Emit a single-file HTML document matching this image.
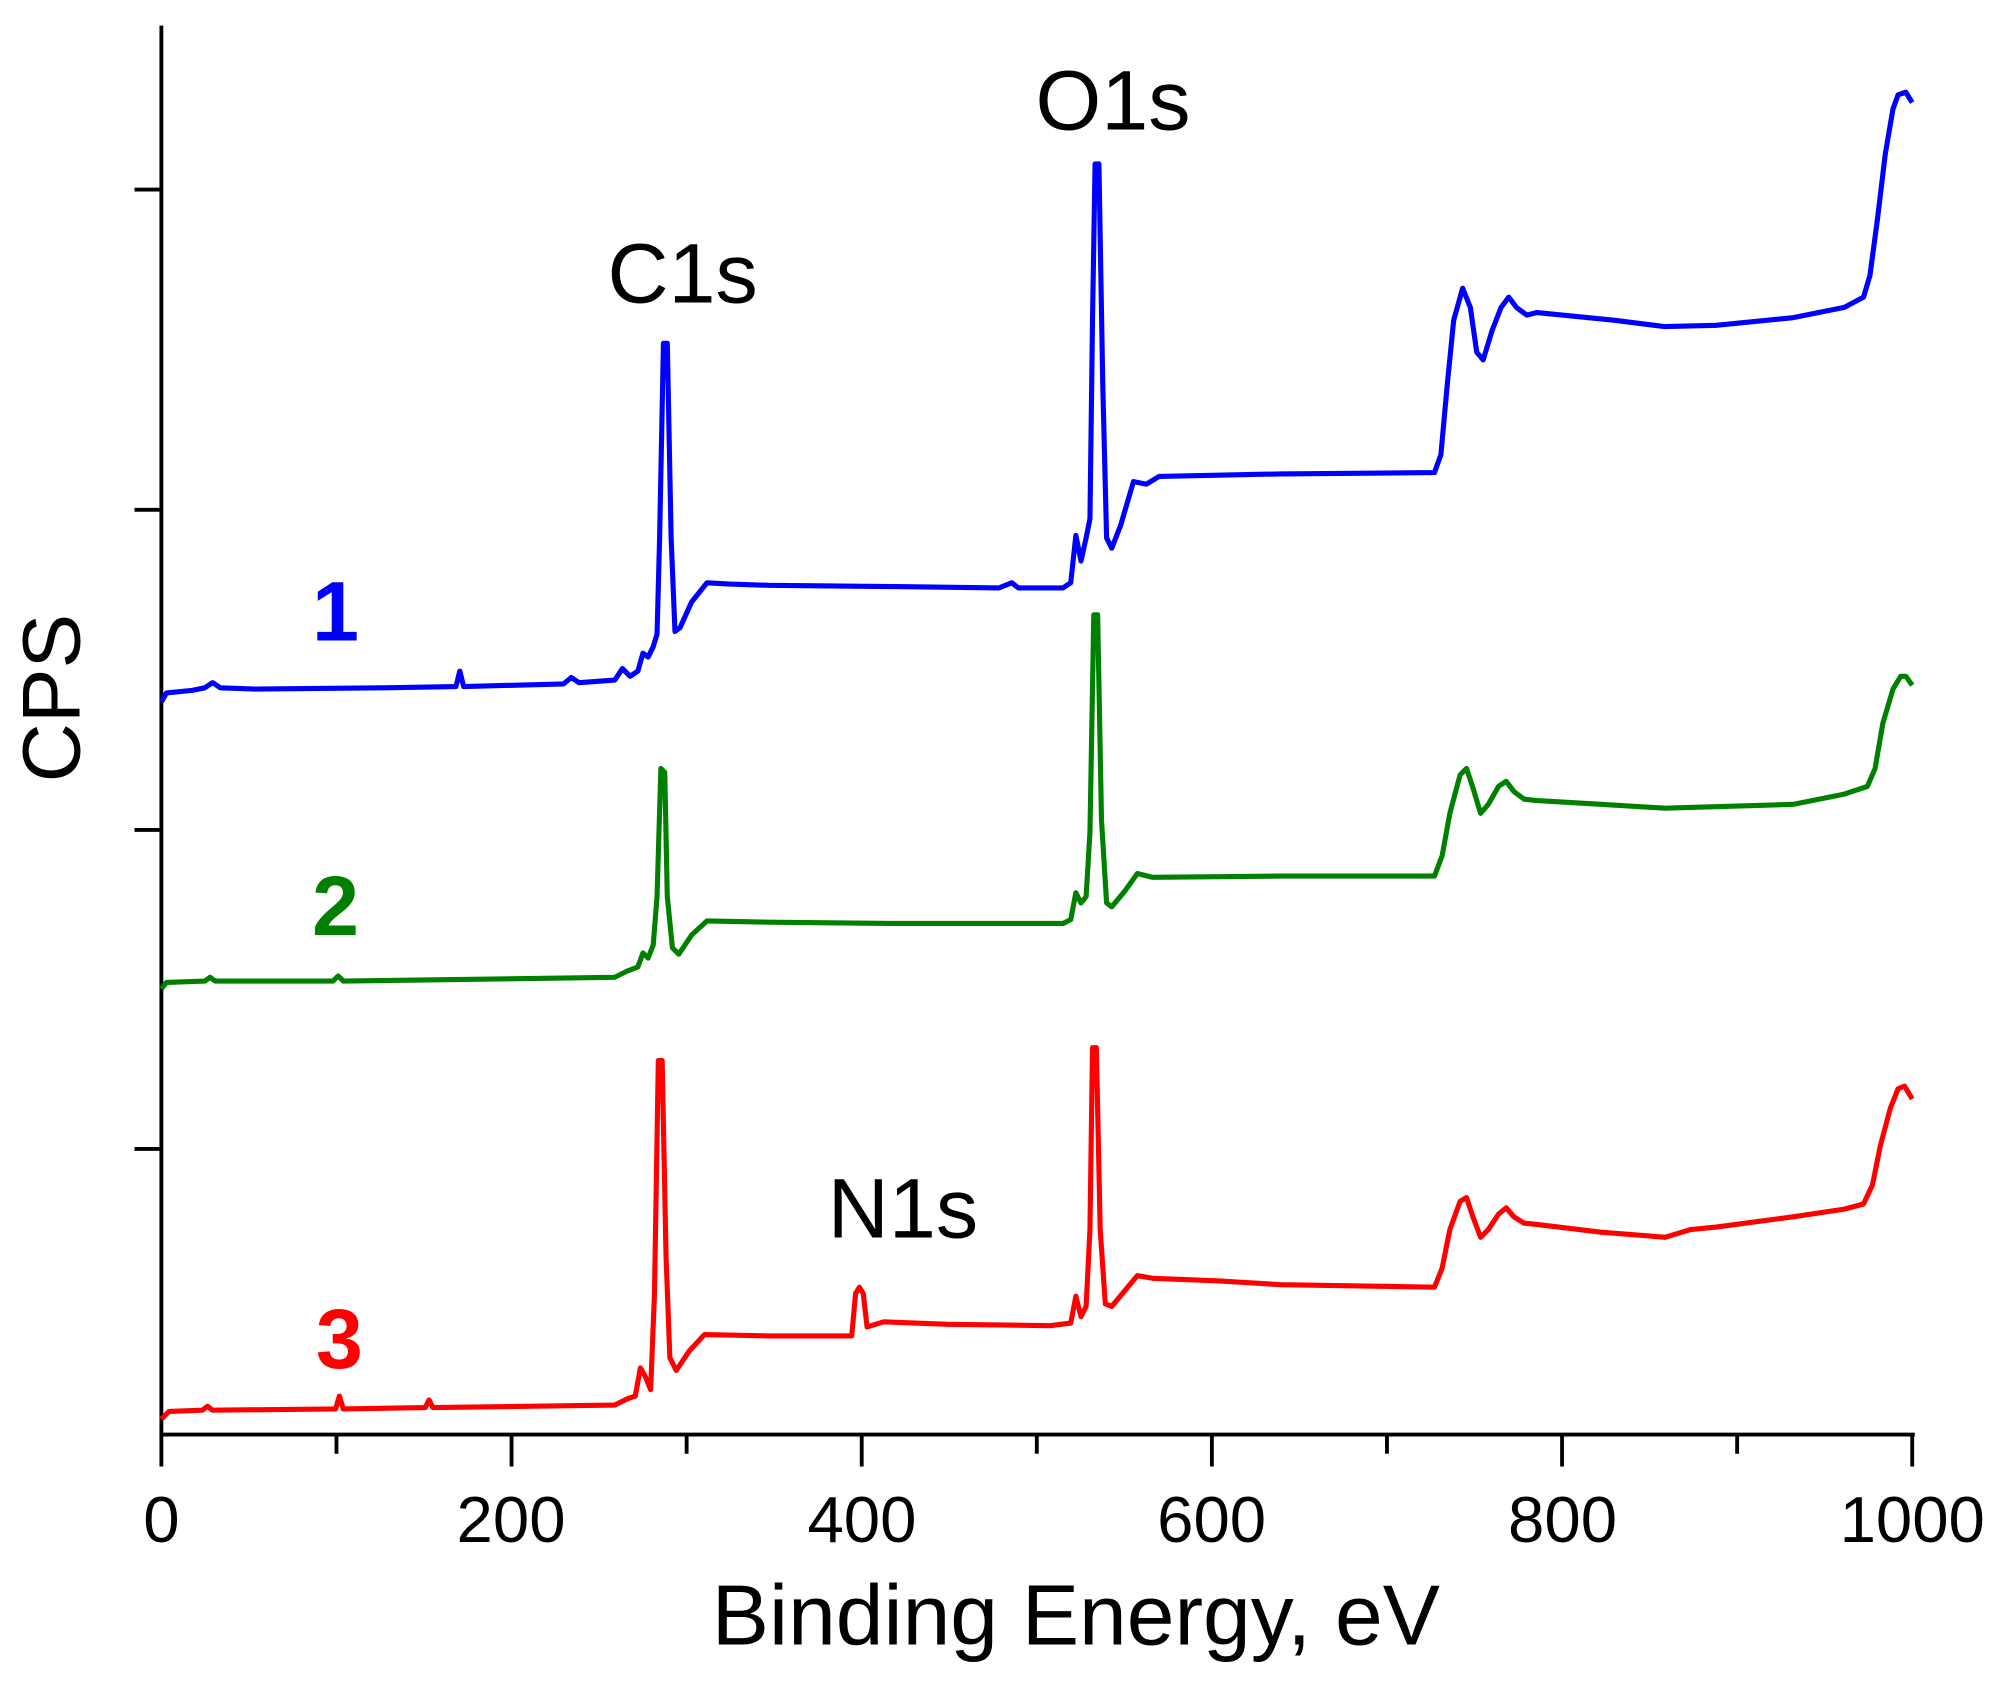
<!DOCTYPE html>
<html><head><style>html,body{margin:0;padding:0;background:#fff}svg{display:block}</style></head>
<body>
<svg width="2007" height="1683" viewBox="0 0 1567 1314" preserveAspectRatio="none" xmlns="http://www.w3.org/2000/svg" font-family="Liberation Sans, Arial, sans-serif">
<rect width="1567" height="1314" fill="#fff"/>
<g stroke="#000" stroke-width="3" fill="none">
<line x1="126" y1="20" x2="126" y2="1121"/>
<line x1="124.5" y1="1120" x2="1495" y2="1120"/>
<line x1="105" y1="148" x2="126" y2="148"/>
<line x1="105" y1="398" x2="126" y2="398"/>
<line x1="105" y1="648" x2="126" y2="648"/>
<line x1="105" y1="897" x2="126" y2="897"/>
<line x1="126" y1="1120" x2="126" y2="1145"/>
<line x1="399.4" y1="1120" x2="399.4" y2="1145"/>
<line x1="672.8" y1="1120" x2="672.8" y2="1145"/>
<line x1="946.2" y1="1120" x2="946.2" y2="1145"/>
<line x1="1219.6" y1="1120" x2="1219.6" y2="1145"/>
<line x1="1493" y1="1120" x2="1493" y2="1145"/>
<line x1="262.7" y1="1120" x2="262.7" y2="1135"/>
<line x1="536.1" y1="1120" x2="536.1" y2="1135"/>
<line x1="809.5" y1="1120" x2="809.5" y2="1135"/>
<line x1="1082.9" y1="1120" x2="1082.9" y2="1135"/>
<line x1="1356.3" y1="1120" x2="1356.3" y2="1135"/>
</g>
<g font-size="51" text-anchor="middle" fill="#000">
<text x="126" y="1204">0</text><text x="399" y="1204">200</text><text x="673" y="1204">400</text>
<text x="946" y="1204">600</text><text x="1220" y="1204">800</text><text x="1493" y="1204">1000</text>
</g>
<text x="840" y="1284" font-size="67" text-anchor="middle">Binding Energy, eV</text>
<text transform="translate(62,545) rotate(-90)" font-size="64" text-anchor="middle">CPS</text>
<g fill="none" stroke-width="4" stroke-linejoin="round">
<path stroke="#0000ff" d="M126,548 L130,541 L150,539 L160,537 L166,533 L172,537 L200,538 L300,537 L356,536 L359,524 L362,536 L440,534 L446,529 L452,533 L480,531 L486,522 L492,528 L498,524 L502,510 L506,513 L510,505 L513,495 L515,420 L518,268 L521,268 L524,420 L527,493 L531,490 L540,470 L552,455 L570,456 L600,457 L700,458 L780,459 L790,455 L795,459 L830,459 L836,455 L840,418 L844,438 L848,420 L851,405 L853,250 L855,128 L858,128 L861,300 L864,420 L868,428 L875,410 L885,376 L895,378 L905,372 L1000,370 L1120,369 L1125,355 L1130,300 L1135,250 L1142,225 L1148,240 L1153,275 L1158,281 L1165,258 L1172,240 L1178,232 L1184,240 L1192,246 L1200,244 L1260,250 L1300,255 L1340,254 L1400,248 L1440,240 L1455,232 L1460,215 L1466,170 L1472,120 L1478,85 L1482,74 L1488,72 L1493,80"/>
<path stroke="#008000" d="M126,772 L130,767 L160,766 L164,763 L168,766 L260,766 L264,762 L268,766 L480,763 L490,758 L498,755 L502,744 L506,748 L510,738 L513,700 L516,600 L519,603 L521,700 L525,740 L530,745 L540,730 L552,719 L600,720 L700,721 L800,721 L830,721 L836,718 L840,697 L844,705 L848,700 L851,650 L854,480 L857,480 L860,640 L864,705 L868,708 L878,696 L888,682 L900,685 L1000,684 L1120,684 L1126,668 L1132,635 L1140,605 L1145,600 L1150,615 L1156,635 L1162,628 L1170,614 L1176,610 L1182,618 L1190,624 L1200,625 L1250,628 L1300,631 L1400,628 L1440,620 L1458,614 L1464,600 L1470,565 L1478,538 L1484,528 L1488,528 L1493,535"/>
<path stroke="#ff0000" d="M126,1108 L132,1102 L158,1101 L162,1098 L166,1101 L262,1100 L265,1090 L268,1100 L332,1099 L335,1093 L338,1099 L480,1097 L490,1092 L496,1090 L500,1068 L504,1075 L508,1085 L511,1010 L514,828 L517,828 L520,980 L523,1060 L528,1070 L538,1055 L550,1042 L600,1043 L665,1043 L668,1010 L671,1005 L674,1010 L677,1036 L690,1032 L740,1034 L820,1035 L836,1033 L840,1012 L844,1028 L848,1020 L851,960 L853,818 L856,818 L859,960 L863,1018 L868,1020 L878,1008 L888,996 L900,998 L950,1000 L1000,1003 L1120,1005 L1126,990 L1132,960 L1140,938 L1145,935 L1150,950 L1156,966 L1162,960 L1170,948 L1176,943 L1182,950 L1190,955 L1200,956 L1250,962 L1300,966 L1320,960 L1340,958 L1400,950 L1440,944 L1455,940 L1462,925 L1468,895 L1476,865 L1482,850 L1487,848 L1493,858"/>
</g>
<g font-size="66" font-weight="bold" text-anchor="middle">
<text x="262" y="500" fill="#0000ff">1</text>
<text x="262" y="730" fill="#008000">2</text>
<text x="265" y="1068" fill="#ff0000">3</text>
</g>
<g font-size="66" text-anchor="middle" fill="#000">
<text x="533" y="236">C1s</text>
<text x="869" y="101">O1s</text>
<text x="705" y="966">N1s</text>
</g>
</svg>
</body></html>
